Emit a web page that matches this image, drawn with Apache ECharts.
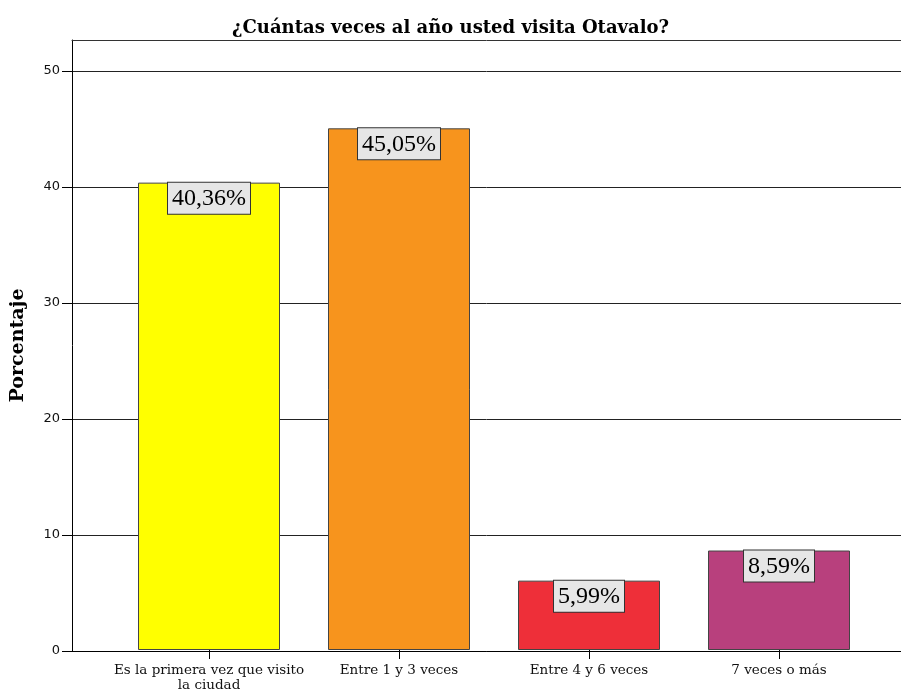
<!DOCTYPE html>
<html>
<head>
<meta charset="utf-8">
<script src="https://cdn.jsdelivr.net/npm/echarts@6/dist/echarts.min.js"></script>
<style>html,body{margin:0;padding:0;background:#fff}#c{width:901px;height:693px}</style>
</head>
<body>
<div id="c"></div>
<script>
var title = '¿Cuántas veces al año usted visita Otavalo?';
var yName = 'Porcentaje';
var categories = ['Es la primera vez que visito\nla ciudad', 'Entre 1 y 3 veces', 'Entre 4 y 6 veces', '7 veces o más'];
var values = [40.36, 45.05, 5.99, 8.59];
var barColors = ['#ffff00', '#f7941d', '#ee2f39', '#b8407d'];
var yMin = 0, yMax = 50, yStep = 10;

var chart = echarts.init(document.getElementById('c'), null, {renderer: 'canvas'});
var serif = 'Liberation Serif';
var slab = 'DejaVu Serif';
var option = {
  animation: false,
  backgroundColor: '#fff',
  title: {
    text: title, left: 'center', top: 14,
    textStyle: {fontFamily: slab, fontSize: 18, fontWeight: 'bold', color: '#000'}
  },
  grid: [
    {left: 72, right: 0, top: 71, bottom: 42},
    {left: 114, width: 760, top: 71, bottom: 42},
    {left: 72, right: 0, top: 40, bottom: 42}
  ],
  xAxis: [
    {gridIndex: 0, type: 'value', min: 0, max: 1, axisLine: {show: true, onZero: false, lineStyle: {color: '#000', width: 1}},
     axisTick: {show: false}, axisLabel: {show: false}, splitLine: {show: false}},
    {gridIndex: 1, type: 'category', data: categories, axisLine: {show: false},
     axisTick: {show: true, alignWithLabel: true, length: 9, lineStyle: {color: '#000'}},
     axisLabel: {fontFamily: slab, fontSize: 13.5, color: '#111', margin: 13, lineHeight: 15, interval: 0},
     splitLine: {show: false}},
    {gridIndex: 2, type: 'value', position: 'top', min: 0, max: 1, axisLine: {show: true, onZero: false, lineStyle: {color: '#333', width: 1}},
     axisTick: {show: false}, axisLabel: {show: false}, splitLine: {show: false}}
  ],
  yAxis: [
    {gridIndex: 0, type: 'value', min: yMin, max: yMax, interval: yStep,
     axisLine: {show: false}, axisTick: {show: true, length: 10, lineStyle: {color: '#000'}},
     axisLabel: {fontFamily: 'DejaVu Sans', fontSize: 13, color: '#111', margin: 12},
     splitLine: {show: true, lineStyle: {color: '#222', width: 1}}},
    {gridIndex: 1, type: 'value', min: yMin, max: yMax, interval: yStep, show: false},
    {gridIndex: 2, type: 'value', min: 0, max: 1,
     name: yName, nameLocation: 'middle', nameGap: 44, nameRotate: 90,
     nameTextStyle: {fontFamily: slab, fontSize: 19, fontWeight: 'bold', color: '#000'},
     axisLine: {show: true, onZero: false, lineStyle: {color: '#000', width: 1}},
     axisTick: {show: false}, axisLabel: {show: false}, splitLine: {show: false}}
  ],
  series: [{
    type: 'bar', xAxisIndex: 1, yAxisIndex: 1, barWidth: 142,
    data: values.map(function (v, i) {
      return {value: v, itemStyle: {color: barColors[i]}};
    }),
    itemStyle: {borderColor: '#444', borderWidth: 1},
    label: {
      show: true, position: 'insideTop', distance: 0,
      formatter: function (p) { return p.value.toFixed(2).replace('.', ',') + '%'; },
      fontFamily: serif, fontSize: 24, color: '#000',
      backgroundColor: '#e6e6e6', borderColor: '#333', borderWidth: 1,
      padding: [4, 4, 3, 4]
    }
  }]
};
chart.setOption(option);
</script>
</body>
</html>
